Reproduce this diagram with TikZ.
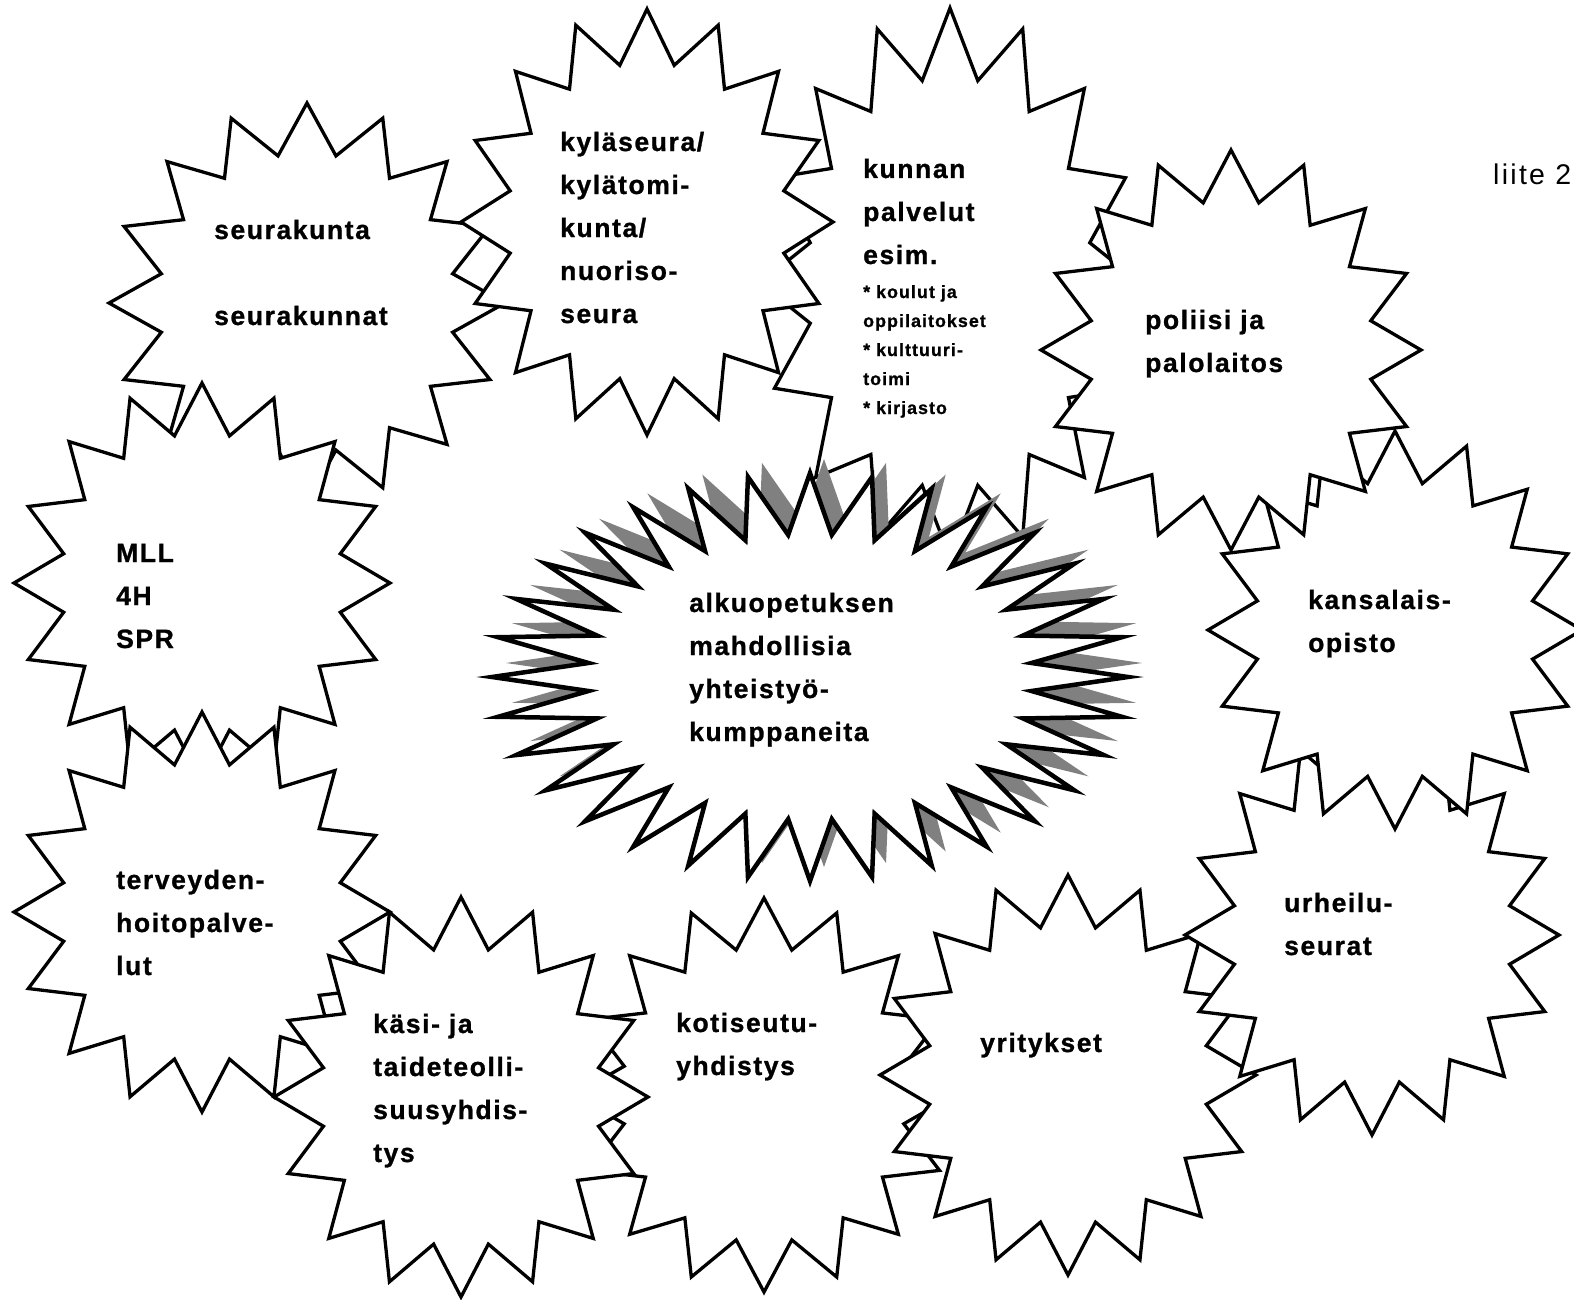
\documentclass[tikz,border=0pt]{standalone}
\usepackage{fontspec}
\newfontfamily\lab{Liberation Sans}[LetterSpace=6,FakeBold=1]
\newfontfamily\labr{Liberation Sans}[LetterSpace=8]
\definecolor{shadowgray}{RGB}{128,128,128}
\newcommand{\burst}[7]{%
  \pgfmathsetmacro{\bstep}{180/#6}%
  \pgfmathtruncatemacro{\bnn}{2*#6-1}%
  \path[#1] (#2,{#3-#5}) \foreach \i in {1,...,\bnn}{ -- ({#2+#4*(1-(1-#7)*mod(\i,2))*cos(90+\i*\bstep)},{#3-#5*(1-(1-#7)*mod(\i,2))*sin(90+\i*\bstep)}) } -- cycle;}
\begin{document}
\begin{tikzpicture}[x=1pt,y=-1pt,
  wstar/.style={draw=black,fill=white,line width=3.3pt,line join=miter},
  cstar/.style={draw=black,fill=white,line width=4.5pt,line join=miter},
  shadowstar/.style={fill=shadowgray},
  lbl/.style={anchor=base west,inner sep=0pt,align=left,text=black,font=\lab\bfseries\fontsize{26.5}{43}\selectfont},
  slbl/.style={anchor=base west,inner sep=0pt,align=left,text=black,font=\lab\bfseries\fontsize{17.8}{29}\selectfont},
  rlbl/.style={anchor=base west,inner sep=0pt,text=black,font=\labr\fontsize{28.5}{34}\selectfont}]
\useasboundingbox[fill=white] (0,0) rectangle (1574,1300);
% white starbursts, back to front
\burst{wstar}{307}{303}{198}{200}{16}{0.75}
\burst{wstar}{950}{283}{190}{275}{16}{0.75}
\burst{wstar}{764}{1095}{190}{197}{16}{0.75}
\burst{wstar}{202}{583}{188}{200}{16}{0.75}
\burst{wstar}{202}{912}{188}{200}{16}{0.75}
\burst{wstar}{461}{1097}{187}{200}{16}{0.75}
\burst{wstar}{1068}{1075}{188}{200}{16}{0.75}
\burst{wstar}{1372}{935}{187}{200}{16}{0.75}
\burst{wstar}{1395}{630}{187}{199}{16}{0.75}
\burst{wstar}{1231}{350}{190}{200}{16}{0.75}
\burst{wstar}{647}{222}{186}{213}{16}{0.75}
% central starburst with shadow
\burst{shadowstar}{824}{663}{318}{204}{32}{0.7}
\burst{cstar}{810}{677}{318}{204}{32}{0.7}
% labels (anchored at the baseline of the last line)
\node[lbl] (seura) at (214,325) {seurakunta\\[43pt]seurakunnat};
\node[lbl] (kyla) at (560,323) {kyläseura/\\kylätomi-\\kunta/\\nuoriso-\\seura};
\node[lbl] (kunnan) at (863,264) {kunnan\\palvelut\\esim.};
\node[slbl] (kunnansub) at (863,414) {* koulut ja\\oppilaitokset\\* kulttuuri-\\toimi\\* kirjasto};
\node[lbl] (poliisi) at (1145,372) {poliisi ja\\palolaitos};
\node[rlbl] (liite) at (1493,185) {liite 2};
\node[lbl] (mll) at (116,648) {MLL\\4H\\SPR};
\node[lbl] (center) at (689,741) {alkuopetuksen\\mahdollisia\\yhteistyö-\\kumppaneita};
\node[lbl] (kansa) at (1308,652) {kansalais-\\opisto};
\node[lbl] (terv) at (116,975) {terveyden-\\hoitopalve-\\lut};
\node[lbl] (kasi) at (373,1162) {käsi- ja\\taideteolli-\\suusyhdis-\\tys};
\node[lbl] (koti) at (676,1075) {kotiseutu-\\yhdistys};
\node[lbl] (yrit) at (980,1052) {yritykset};
\node[lbl] (urh) at (1284,955) {urheilu-\\seurat};
\end{tikzpicture}
\end{document}
